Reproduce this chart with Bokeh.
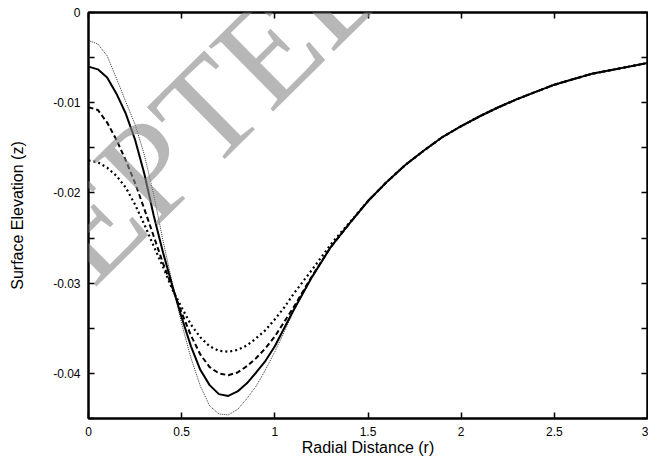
from bokeh.plotting import figure
from bokeh.models import Range1d, FixedTicker, LinearAxis, Label, CustomJSTickFormatter
from bokeh.embed import file_html
from bokeh.resources import INLINE

# ---- data ----
r = [0.0, 0.05, 0.1, 0.15, 0.2, 0.25, 0.3, 0.35, 0.4, 0.45, 0.5, 0.55, 0.6, 0.65,
     0.7, 0.75, 0.8, 0.85, 0.9, 0.95, 1.0, 1.05, 1.1, 1.2, 1.3, 1.4, 1.5, 1.6, 1.7,
     1.8, 1.9, 2.0, 2.1, 2.2, 2.3, 2.4, 2.5, 2.6, 2.7, 2.8, 2.9, 3.0]

z_thin_dotted = [-0.0031, -0.0035, -0.0048, -0.0073, -0.0099, -0.0124, -0.0158, -0.0202,
                 -0.0253, -0.0300, -0.0345, -0.0383, -0.0414, -0.0436, -0.0445, -0.0446,
                 -0.0440, -0.0428, -0.0414, -0.0396, -0.0376, -0.0354, -0.0332, -0.0293,
                 -0.0261, -0.0234, -0.0209, -0.0188, -0.0169, -0.0153, -0.0138, -0.0126,
                 -0.0115, -0.0105, -0.0096, -0.0088, -0.0080, -0.0074, -0.0068, -0.0064,
                 -0.0060, -0.0056]

z_solid = [-0.0060, -0.0063, -0.0072, -0.0090, -0.0112, -0.0141, -0.0179, -0.0225,
           -0.0266, -0.0303, -0.0338, -0.0370, -0.0396, -0.0413, -0.0423, -0.0425,
           -0.0420, -0.0411, -0.0399, -0.0386, -0.0370, -0.0350, -0.0330, -0.0293,
           -0.0260, -0.0234, -0.0209, -0.0188, -0.0169, -0.0153, -0.0138, -0.0126,
           -0.0115, -0.0105, -0.0096, -0.0088, -0.0080, -0.0074, -0.0068, -0.0064,
           -0.0060, -0.0056]

z_dashed = [-0.0105, -0.0108, -0.0122, -0.0141, -0.0164, -0.0189, -0.0218, -0.0248,
            -0.0278, -0.0305, -0.0333, -0.0358, -0.0379, -0.0393, -0.0400, -0.0402,
            -0.0399, -0.0392, -0.0383, -0.0372, -0.0359, -0.0343, -0.0327, -0.0292,
            -0.0260, -0.0234, -0.0209, -0.0188, -0.0169, -0.0153, -0.0138, -0.0126,
            -0.0115, -0.0105, -0.0096, -0.0088, -0.0080, -0.0074, -0.0068, -0.0064,
            -0.0060, -0.0056]

z_thick_dotted = [-0.0164, -0.0166, -0.0172, -0.0181, -0.0194, -0.0213, -0.0235, -0.0259,
                  -0.0282, -0.0307, -0.0327, -0.0346, -0.0360, -0.0370, -0.0375, -0.0376,
                  -0.0374, -0.0369, -0.0361, -0.0352, -0.0340, -0.0327, -0.0312, -0.0285,
                  -0.0257, -0.0233, -0.0209, -0.0188, -0.0169, -0.0153, -0.0138, -0.0126,
                  -0.0115, -0.0105, -0.0096, -0.0088, -0.0080, -0.0074, -0.0068, -0.0064,
                  -0.0060, -0.0056]

x_ticks = [0, 0.5, 1, 1.5, 2, 2.5, 3]
x_tick_labels = ["0", "0.5", "1", "1.5", "2", "2.5", "3"]
y_ticks = [0, -0.01, -0.02, -0.03, -0.04]
y_tick_labels = ["0", "-0.01", "-0.02", "-0.03", "-0.04"]
y_minor_ticks = [-0.005, -0.015, -0.025, -0.035, -0.045]

x_title = "Radial Distance (r)"
y_title = "Surface Elevation (z)"
watermark = "ACCEPTED"

FONT = "Liberation Sans"

p = figure(width=648, height=461, output_backend="svg", toolbar_location=None,
           x_range=Range1d(0, 3), y_range=Range1d(-0.045, 0),
           min_border_left=88, min_border_right=1, min_border_top=12, min_border_bottom=43)
p.background_fill_color = "white"
p.border_fill_color = "white"
p.grid.visible = False
p.outline_line_color = "black"
p.outline_line_width = 2

# "ACCEPTED" stamp across the chart
p.add_layout(Label(x=112, y=203, x_units="canvas", y_units="canvas", text=watermark,
                   angle=0.78, text_font="Liberation Serif", text_font_size="140px",
                   text_color="#8a8a8a", text_alpha=0.62,
                   text_align="center", text_baseline="middle"))

xt = FixedTicker(ticks=x_ticks, minor_ticks=[])
yt = FixedTicker(ticks=y_ticks, minor_ticks=y_minor_ticks)

def style(ax):
    ax.axis_line_color = "black"
    ax.axis_line_width = 2
    ax.major_tick_in = 6
    ax.major_tick_out = 0
    ax.minor_tick_in = 6
    ax.minor_tick_out = 0
    ax.major_tick_line_width = 1.5
    ax.minor_tick_line_width = 1.5
    ax.major_label_text_font = FONT
    ax.major_label_text_font_size = "12px"
    ax.major_label_text_color = "black"
    ax.axis_label_text_font = FONT
    ax.axis_label_text_font_style = "normal"
    ax.axis_label_text_font_size = "16px"
    ax.axis_label_text_color = "black"

xa = p.xaxis[0]
xa.ticker = xt
xa.major_label_overrides = dict(zip(x_ticks, x_tick_labels))
xa.axis_label = x_title
xa.major_label_standoff = 8
xa.axis_label_standoff = 0
style(xa)

ya = p.yaxis[0]
ya.ticker = yt
ya.major_label_overrides = dict(zip(y_ticks, y_tick_labels))
ya.axis_label = y_title
ya.major_label_standoff = 8
ya.axis_label_standoff = 24
style(ya)

blank = CustomJSTickFormatter(code="return ''")
top = LinearAxis(ticker=xt, formatter=blank, major_label_standoff=0)
style(top)
p.add_layout(top, "above")
right = LinearAxis(ticker=yt, formatter=blank, major_label_standoff=0)
style(right)
p.add_layout(right, "right")

p.line(r, z_thin_dotted, line_color="#333333", line_width=1, line_dash="1 1")
p.line(r, z_thick_dotted, line_color="black", line_width=2.2, line_dash="2 3")
p.line(r, z_dashed, line_color="black", line_width=2, line_dash="5 3")
p.line(r, z_solid, line_color="black", line_width=2)

open("out.html", "w").write(file_html(p, INLINE))
